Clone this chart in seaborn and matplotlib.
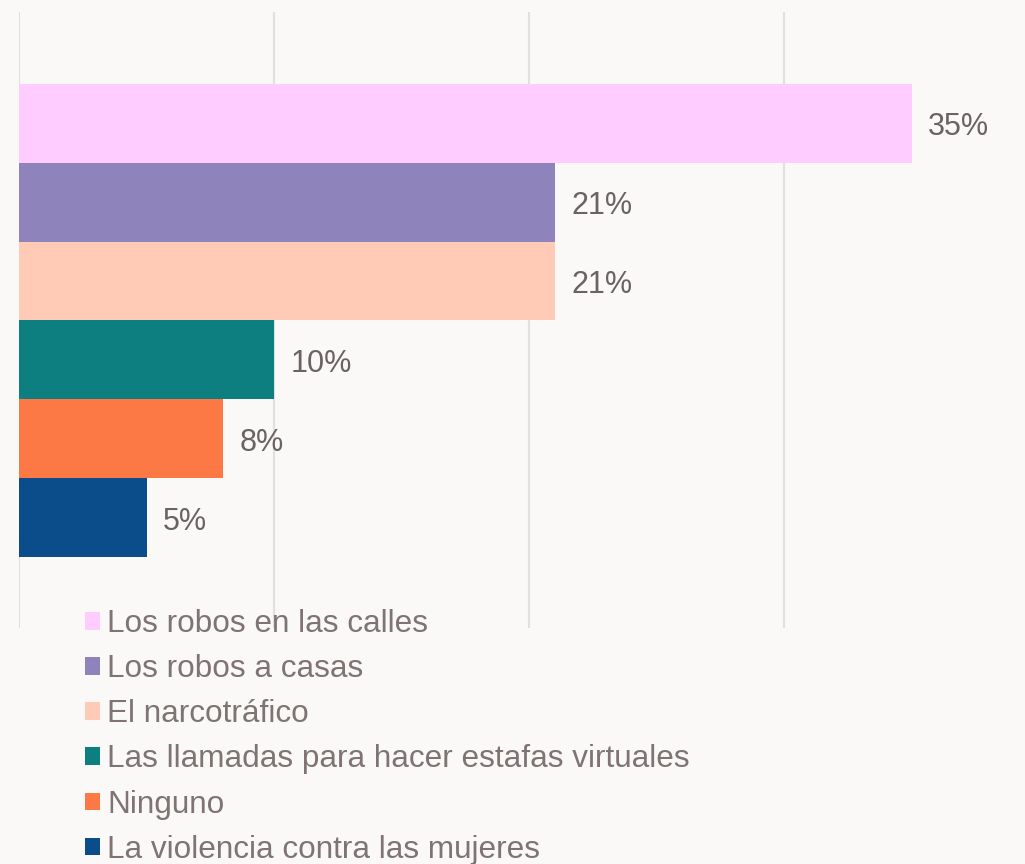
import matplotlib
matplotlib.use("Agg")
import matplotlib.pyplot as plt
import seaborn as sns
import pandas as pd

categorias = [
    "Los robos en las calles",
    "Los robos a casas",
    "El narcotráfico",
    "Las llamadas para hacer estafas virtuales",
    "Ninguno",
    "La violencia contra las mujeres",
]
porcentajes = [35, 21, 21, 10, 8, 5]
colores = ["#FFCCFF", "#8E84BB", "#FFCBB6", "#0E7F80", "#FC7845", "#0B4D8A"]
ticks_x = [0, 10, 20, 30]

fondo = "#FAF9F7"
sns.set_theme(style="white")
plt.rcParams["font.family"] = ["Liberation Sans", "DejaVu Sans"]

df = pd.DataFrame({"categoria": categorias, "valor": porcentajes})

fig = plt.figure(figsize=(10.25, 8.64), dpi=100, facecolor=fondo)
ax = fig.add_axes([19 / 1025, 1 - 628 / 864, 1 - 19 / 1025, (628 - 12) / 864])
ax.set_facecolor(fondo)

sns.barplot(data=df, x="valor", y="categoria", hue="categoria",
            palette=colores, orient="h", width=1.0, saturation=1,
            linewidth=0, ax=ax, legend=True)

ax.set_xlim(0, 39.45)
ax.set_ylim(len(categorias) - 0.5 + 0.9, -0.5 - 0.91)
ax.set_xticks(ticks_x)
ax.set_xticklabels([])
ax.set_yticks([])
ax.set_xlabel("")
ax.set_ylabel("")
ax.tick_params(length=0)
ax.grid(axis="x", color="#E2E0DE", linewidth=1.5)
ax.set_axisbelow(True)
for s in ax.spines.values():
    s.set_visible(False)

for cont in ax.containers:
    etiquetas = ax.bar_label(cont, labels=[f"{v:.0f}%" for v in cont.datavalues],
                             padding=12, fontsize=22, color="#6B6264")
    for t in etiquetas:
        t.xyann = (t.xyann[0], -3)

handles, labels = ax.get_legend_handles_labels()
ax.get_legend().remove()
leg = fig.legend(handles, labels, loc="upper left",
                 bbox_to_anchor=(85 / 1025, 1 - 609 / 864),
                 frameon=False, fontsize=22.7, labelcolor="#7F7374",
                 handlelength=0.48, handleheight=0.48, handletextpad=0.22,
                 labelspacing=0.48, borderaxespad=0, borderpad=0)

fig.savefig("out.png", dpi=100, facecolor=fondo)
